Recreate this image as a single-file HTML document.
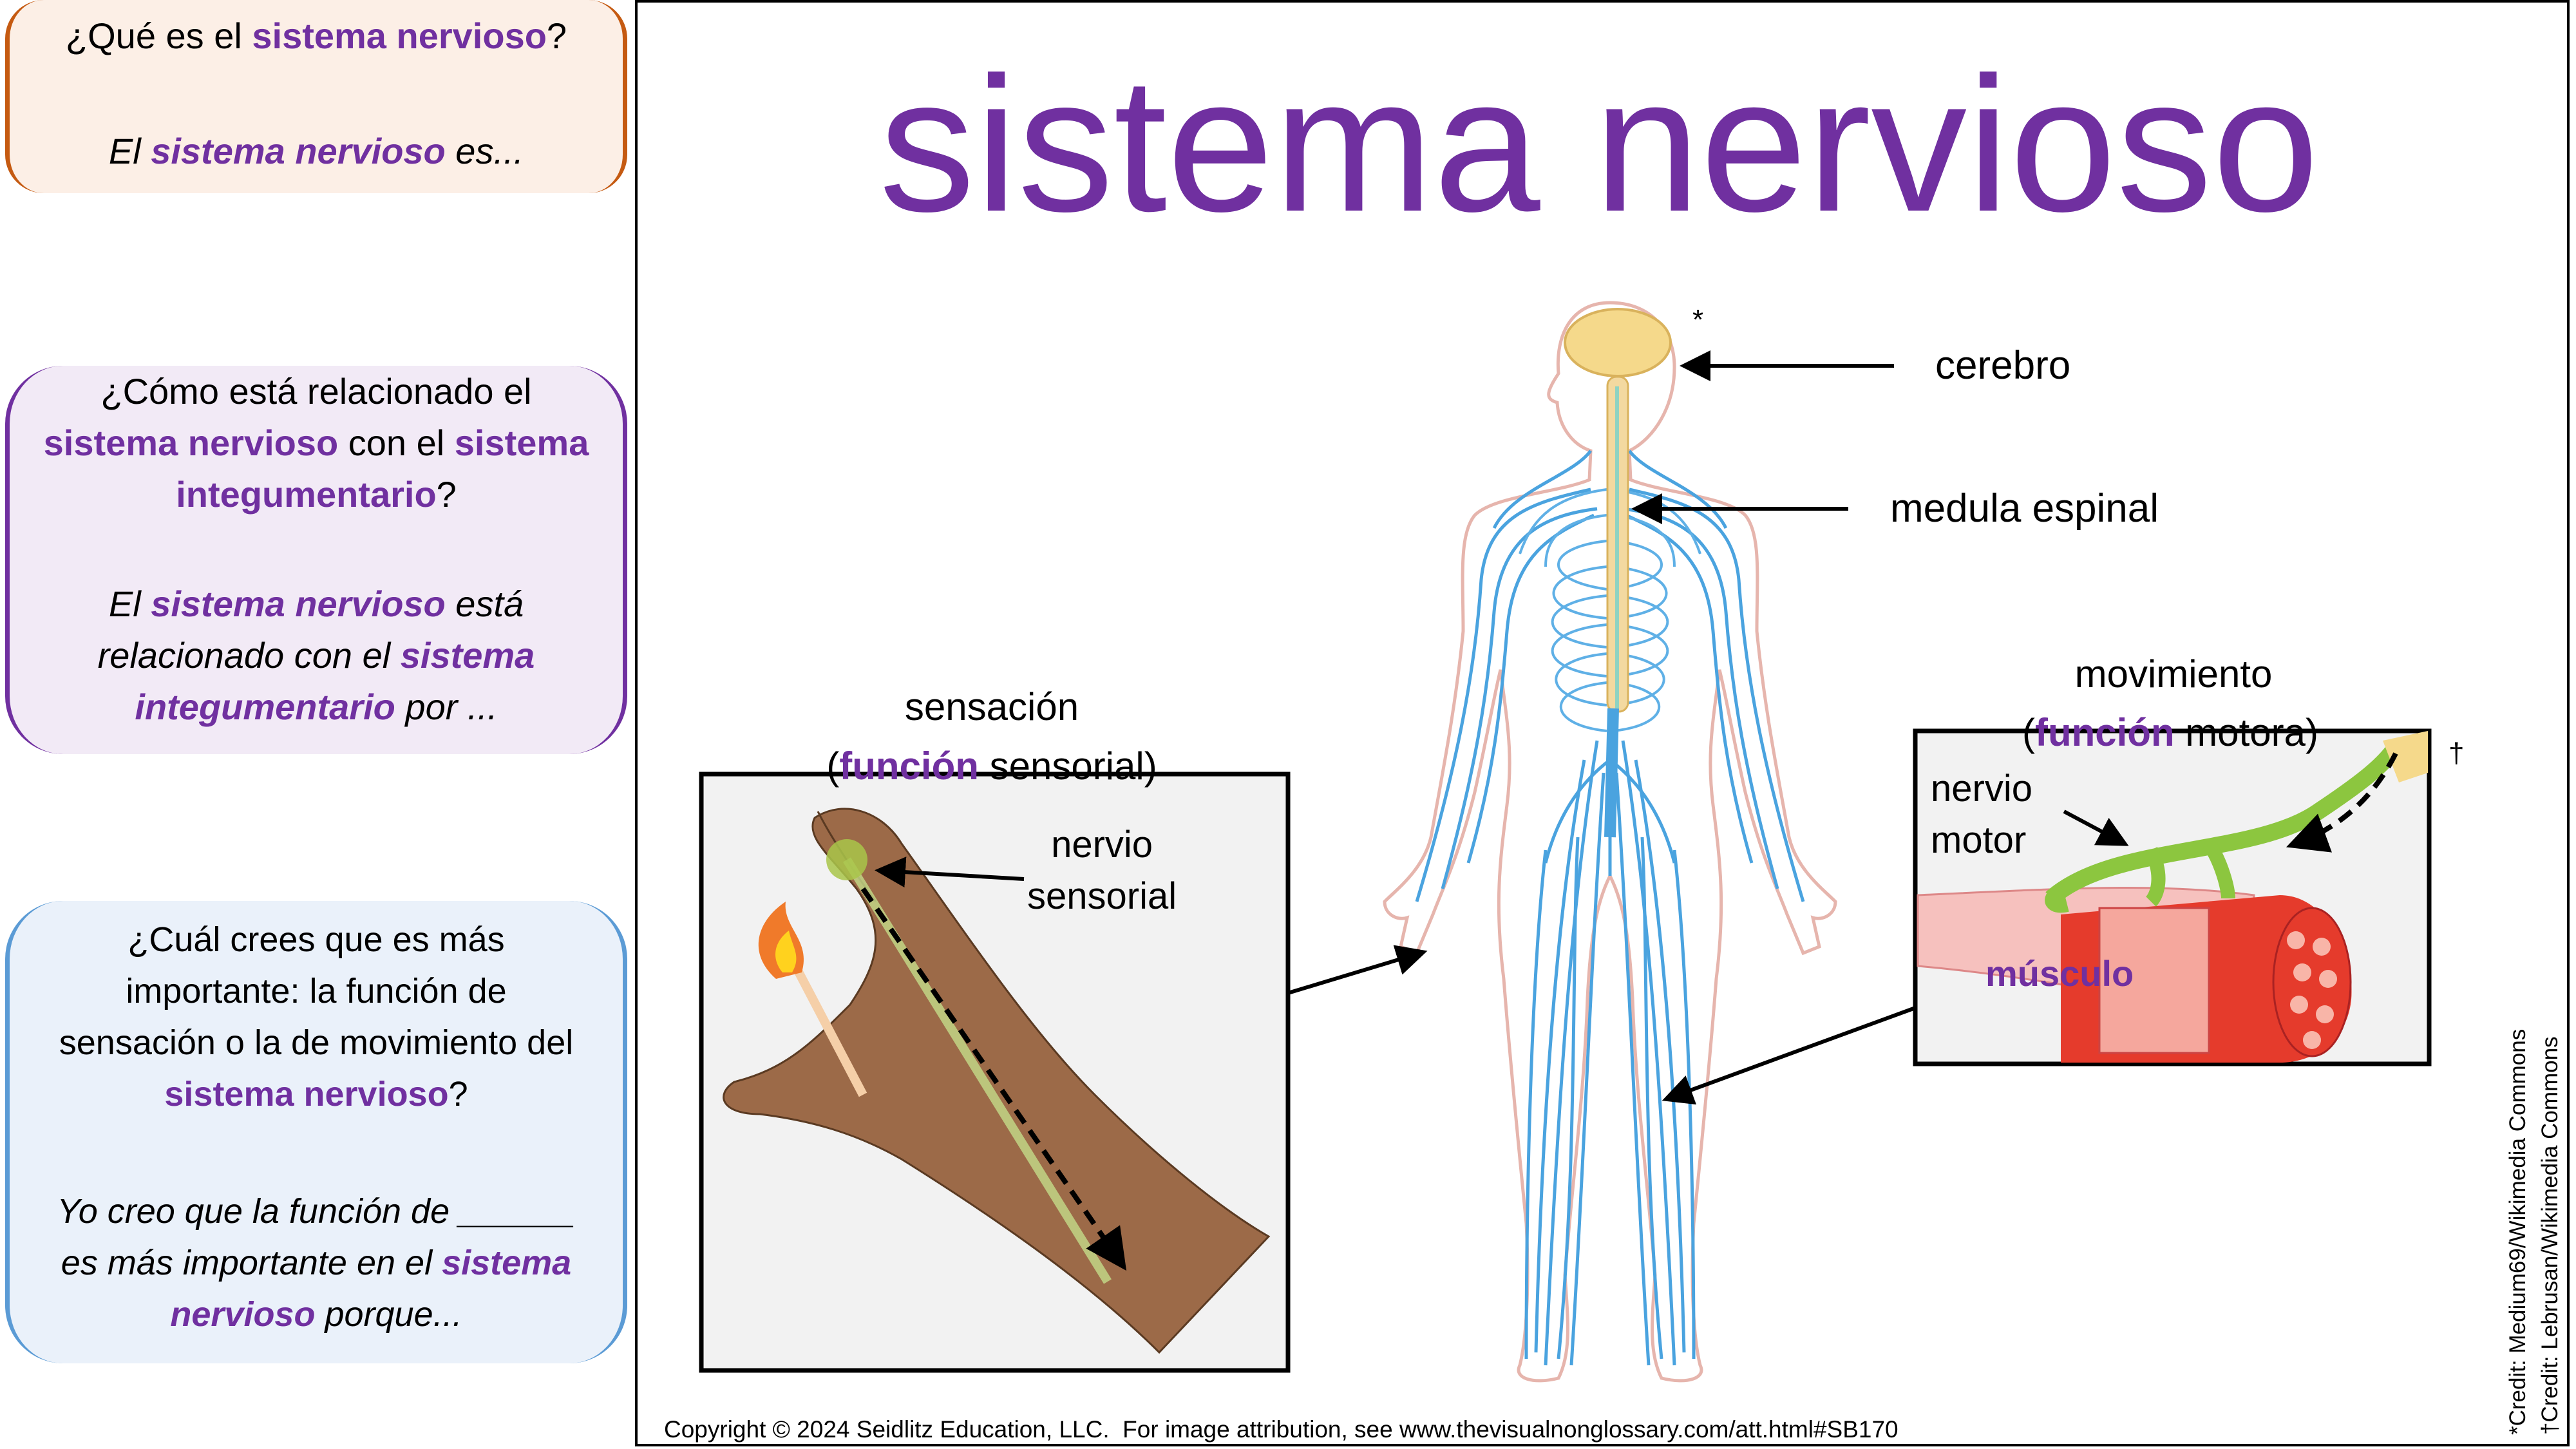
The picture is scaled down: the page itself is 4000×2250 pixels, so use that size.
<!DOCTYPE html>
<html><head><meta charset="utf-8"><style>
html,body{margin:0;padding:0;background:#fff}
body{width:4000px;height:2250px;position:relative;overflow:hidden;font-family:"Liberation Sans",sans-serif}
.box{position:absolute;left:8px;width:966px;border-left:7px solid;border-right:7px solid;border-radius:90px;box-sizing:border-box;text-align:center;font-size:56px;line-height:80px;color:#000}
.p{color:#7030a0;font-weight:bold}
.t{position:absolute;white-space:nowrap}
</style></head><body>
<div class="box" style="top:0;height:300px;background:#fcefe6;border-color:#c55a11;border-radius:60px">
<div style="position:absolute;top:16px;width:100%">¿Qué es el <span class="p">sistema nervioso</span>?</div>
<div style="position:absolute;top:195px;width:100%;font-style:italic">El <span class="p">sistema nervioso</span> es...</div>
</div>
<div class="box" style="top:568px;height:603px;background:#f2eaf6;border-color:#7030a0">
<div style="position:absolute;top:0;width:100%">¿Cómo está relacionado el<br><span class="p">sistema nervioso</span> con el <span class="p">sistema</span><br><span class="p">integumentario</span>?</div>
<div style="position:absolute;top:330px;width:100%;font-style:italic">El <span class="p">sistema nervioso</span> está<br>relacionado con el <span class="p">sistema</span><br><span class="p">integumentario</span> por ...</div>
</div>
<div class="box" style="top:1399px;height:718px;background:#eaf1fa;border-color:#5b9bd5">
<div style="position:absolute;top:20px;width:100%;font-size:54px">¿Cuál crees que es más<br>importante: la función de<br>sensación o la de movimiento del<br><span class="p">sistema nervioso</span>?</div>
<div style="position:absolute;top:442px;width:100%;font-style:italic;font-size:54px">Yo creo que la función de ______<br>es más importante en el <span class="p">sistema</span><br><span class="p">nervioso</span> porque...</div>
</div>
<div style="position:absolute;left:986px;top:0;width:3004px;height:2246px;border:4px solid #000;box-sizing:border-box"></div>
<div class="t" style="left:1365px;top:50px;font-size:298px;line-height:350px;color:#7030a0">sistema nervioso</div>

<svg style="position:absolute;left:0;top:0" width="4000" height="2250" viewBox="0 0 4000 2250">
<defs><marker id="a" markerWidth="8" markerHeight="8" refX="6" refY="4" orient="auto" markerUnits="strokeWidth"><path d="M0,0 L8,4 L0,8 z" fill="#000"/></marker></defs>
<path d="M2500,470 C2440,470 2415,520 2420,580 C2400,610 2400,620 2418,625 C2420,660 2440,690 2470,700 L2468,745 C2420,765 2320,770 2290,800 C2265,830 2272,900 2272,980 C2260,1100 2240,1200 2222,1300 C2210,1350 2170,1380 2150,1400 C2150,1420 2170,1430 2185,1425 L2175,1470 L2200,1480 L2225,1420 C2240,1380 2265,1330 2290,1230 C2310,1140 2320,1080 2330,1040 C2340,1120 2350,1170 2340,1250 C2330,1330 2320,1400 2335,1520 C2345,1650 2360,1800 2370,1900 C2375,2000 2370,2080 2360,2120 C2350,2140 2380,2150 2420,2140 C2440,2100 2435,2050 2430,1980 C2440,1850 2460,1700 2465,1550 C2470,1450 2480,1400 2500,1360 C2520,1400 2530,1450 2535,1550 C2540,1700 2560,1850 2570,1980 C2565,2050 2560,2100 2580,2140 C2620,2150 2650,2140 2640,2120 C2630,2080 2625,2000 2630,1900 C2640,1800 2655,1650 2665,1520 C2680,1400 2670,1330 2660,1250 C2650,1170 2660,1120 2670,1040 C2680,1080 2690,1140 2710,1230 C2735,1330 2760,1380 2775,1420 L2800,1480 L2825,1470 L2815,1425 C2830,1430 2850,1420 2850,1400 C2830,1380 2790,1350 2778,1300 C2760,1200 2740,1100 2728,980 C2728,900 2735,830 2710,800 C2680,770 2580,765 2532,745 L2530,700 C2570,680 2600,630 2600,570 C2600,510 2560,470 2500,470 Z" fill="#fff" stroke="#e6b5ad" stroke-width="5"/>
<g fill="none" stroke="#4aa3df" stroke-width="5">
<path d="M2500,600 L2500,1360"/>
<path d="M2480,1150 C2440,1400 2420,1700 2400,2120 M2520,1150 C2560,1400 2580,1700 2600,2120"/>
<path d="M2460,1180 C2420,1400 2395,1700 2385,2100 M2540,1180 C2580,1400 2605,1700 2615,2100"/>
<path d="M2450,1300 C2440,1500 2450,1800 2420,2110 M2550,1300 C2560,1500 2550,1800 2580,2110"/>
<path d="M2470,760 C2380,780 2310,800 2300,900 C2290,1050 2260,1200 2200,1400 M2530,760 C2620,780 2690,800 2700,900 C2710,1050 2740,1200 2800,1400"/>
<path d="M2480,790 C2400,800 2330,830 2320,950 C2310,1080 2290,1200 2240,1380 M2520,790 C2600,800 2670,830 2680,950 C2690,1080 2710,1200 2760,1380"/>
<path d="M2475,800 C2410,830 2350,860 2340,980 C2330,1100 2320,1200 2280,1340 M2525,800 C2590,830 2650,860 2660,980 C2670,1100 2680,1200 2720,1340"/>
<path d="M2470,700 C2440,740 2350,760 2320,820 M2530,700 C2560,740 2650,760 2680,820"/>
<path d="M2500,1180 C2460,1210 2420,1260 2400,1340 M2500,1180 C2540,1210 2580,1260 2600,1340"/>
<path d="M2400,1320 C2380,1500 2370,1800 2370,2110 M2600,1320 C2620,1500 2630,1800 2630,2110"/>
<path d="M2490,1200 C2470,1500 2460,1800 2440,2120 M2510,1200 C2530,1500 2540,1800 2560,2120"/>
</g>
<g fill="none" stroke="#5fb0e6" stroke-width="4">
<path d="M2495,840 C2400,850 2390,900 2495,915 M2505,840 C2600,850 2610,900 2505,915"/>
<path d="M2495,880 C2390,890 2380,950 2495,960 M2505,880 C2610,890 2620,950 2505,960"/>
<path d="M2495,925 C2385,935 2380,995 2495,1005 M2505,925 C2615,935 2620,995 2505,1005"/>
<path d="M2495,970 C2385,980 2380,1040 2495,1050 M2505,970 C2615,980 2620,1040 2505,1050"/>
<path d="M2495,1015 C2390,1025 2390,1085 2495,1095 M2505,1015 C2610,1025 2610,1085 2505,1095"/>
<path d="M2495,1060 C2400,1070 2400,1125 2495,1135 M2505,1060 C2600,1070 2600,1125 2505,1135"/>
<path d="M2495,760 C2420,770 2380,800 2360,860 M2505,760 C2580,770 2620,800 2640,860"/>
<path d="M2495,800 C2410,810 2400,850 2400,880 M2505,800 C2590,810 2600,850 2600,880"/>
</g>
<ellipse cx="2512" cy="532" rx="82" ry="52" fill="#f5d98b" stroke="#d9b25c" stroke-width="4"/>
<rect x="2496" y="585" width="32" height="520" rx="14" fill="#f3d9a0" stroke="#d9b25c" stroke-width="3"/>
<rect x="2508" y="600" width="6" height="500" fill="#8fd3c2"/>
<path d="M2505,1100 L2500,1300" stroke="#4aa3df" stroke-width="18"/>
<g stroke="#000" stroke-width="6" fill="none">
<line x1="2941" y1="568" x2="2620" y2="568" marker-end="url(#a)"/>
<line x1="2870" y1="790" x2="2545" y2="790" marker-end="url(#a)"/>
<line x1="2000" y1="1542" x2="2205" y2="1480" marker-end="url(#a)"/>
<line x1="2974" y1="1565" x2="2592" y2="1705" marker-end="url(#a)"/>
</g>
<rect x="1089" y="1202" width="911" height="926" fill="#f2f2f2" stroke="#000" stroke-width="7"/>
<path d="M1140,1680 C1110,1700 1120,1730 1180,1730 C1260,1740 1330,1760 1400,1800 C1560,1900 1700,2000 1800,2100 L1970,1920 C1900,1880 1800,1800 1700,1700 C1600,1600 1500,1450 1400,1310 C1370,1260 1310,1240 1265,1270 C1250,1300 1290,1330 1330,1380 C1380,1450 1360,1500 1320,1560 C1260,1620 1220,1660 1140,1680 Z" fill="#9c6a48" stroke="#5a3a22" stroke-width="3"/>
<path d="M1270,1260 C1290,1300 1330,1360 1360,1400" stroke="#5a3a22" stroke-width="3" fill="none"/>
<line x1="1230" y1="1490" x2="1340" y2="1700" stroke="#f5cfa8" stroke-width="14"/>
<path d="M1205,1520 C1160,1480 1175,1430 1220,1400 C1215,1440 1260,1460 1245,1510 Z" fill="#f07a2a"/>
<path d="M1215,1510 C1195,1485 1205,1460 1225,1445 C1230,1470 1245,1485 1230,1510 Z" fill="#ffd21e"/>
<path d="M1315,1335 L1720,1990" stroke="#c5dc8a" stroke-width="14" opacity="0.8"/>
<circle cx="1315" cy="1335" r="32" fill="#a9c54a" opacity="0.85"/>
<path d="M1340,1380 L1740,1960" stroke="#000" stroke-width="8" stroke-dasharray="24,14" marker-end="url(#a)"/>
<line x1="1590" y1="1365" x2="1370" y2="1352" stroke="#000" stroke-width="6" marker-end="url(#a)"/>
<rect x="2974" y="1135" width="798" height="517" fill="#f2f2f2" stroke="#000" stroke-width="7"/>
<path d="M2978,1390 C3200,1380 3350,1370 3500,1390 L3500,1580 C3350,1560 3200,1520 2978,1500 Z" fill="#f6c1be" stroke="#d88" stroke-width="3"/>
<path d="M3200,1420 L3540,1390 C3620,1390 3660,1500 3650,1560 C3640,1620 3590,1650 3540,1650 L3200,1650 Z" fill="#e53b2c"/>
<rect x="3260" y="1410" width="170" height="225" fill="#f5a79d" stroke="#c44" stroke-width="3"/>
<ellipse cx="3590" cy="1525" rx="60" ry="115" fill="#e53b2c" stroke="#a22" stroke-width="3"/>
<g fill="#f8b5a8"><circle cx="3565" cy="1460" r="14"/><circle cx="3605" cy="1470" r="14"/><circle cx="3575" cy="1510" r="14"/><circle cx="3615" cy="1520" r="14"/><circle cx="3570" cy="1560" r="14"/><circle cx="3610" cy="1575" r="14"/><circle cx="3590" cy="1615" r="14"/></g>
<path d="M3185,1395 C3280,1310 3500,1330 3600,1260 C3660,1220 3700,1190 3720,1160" stroke="#8cc63f" stroke-width="26" fill="none"/>
<path d="M3340,1320 C3360,1360 3350,1390 3340,1400 M3430,1310 C3450,1340 3460,1380 3460,1395 M3190,1390 C3180,1400 3190,1410 3210,1405" stroke="#8cc63f" stroke-width="22" fill="none"/>
<path d="M3700,1150 L3770,1135 L3770,1200 L3725,1215 Z" fill="#f5d98b"/>
<path d="M3720,1170 C3680,1250 3620,1290 3565,1310" stroke="#000" stroke-width="8" stroke-dasharray="24,14" fill="none" marker-end="url(#a)"/>
<line x1="3205" y1="1260" x2="3295" y2="1308" stroke="#000" stroke-width="6" marker-end="url(#a)"/>
</svg>

<div class="t" style="left:3220px;top:1007px;font-size:60px;line-height:80px;width:310px;text-align:center">movimiento</div>
<div class="t" style="left:3110px;top:1098px;font-size:60px;line-height:80px;width:520px;text-align:center">(<span class="p">función</span> motora)</div>
<div class="t" style="left:1385px;top:1058px;font-size:60px;line-height:80px;width:310px;text-align:center">sensación</div>
<div class="t" style="left:1250px;top:1150px;font-size:60px;line-height:80px;width:580px;text-align:center">(<span class="p">función</span> sensorial)</div>
<div class="t" style="left:1595px;top:1272px;font-size:58px;line-height:80px;text-align:center">nervio<br>sensorial</div>
<div class="t" style="left:2998px;top:1185px;font-size:58px;line-height:80px">nervio<br>motor</div>
<div class="t" style="left:3083px;top:1472px;font-size:56px;line-height:80px;font-weight:bold;color:#7030a0">músculo</div>
<div class="t" style="left:3005px;top:528px;font-size:62px;line-height:80px">cerebro</div>
<div class="t" style="left:2935px;top:750px;font-size:62px;line-height:80px">medula espinal</div>
<div class="t" style="left:2628px;top:472px;font-size:44px">*</div>
<div class="t" style="left:3802px;top:1145px;font-size:44px">†</div>
<div class="t" style="left:1031px;top:2197px;font-size:37px;line-height:46px">Copyright © 2024 Seidlitz Education, LLC.&nbsp; For image attribution, see www.thevisualnonglossary.com/att.html#SB170</div>
<div class="t" style="left:3888px;top:2228px;font-size:35px;line-height:44px;transform:rotate(-90deg);transform-origin:0 0">*Credit: Medium69/Wikimedia Commons</div>
<div class="t" style="left:3938px;top:2228px;font-size:35px;line-height:44px;transform:rotate(-90deg);transform-origin:0 0">†Credit: Lebrusan/Wikimedia Commons</div>
</body></html>
